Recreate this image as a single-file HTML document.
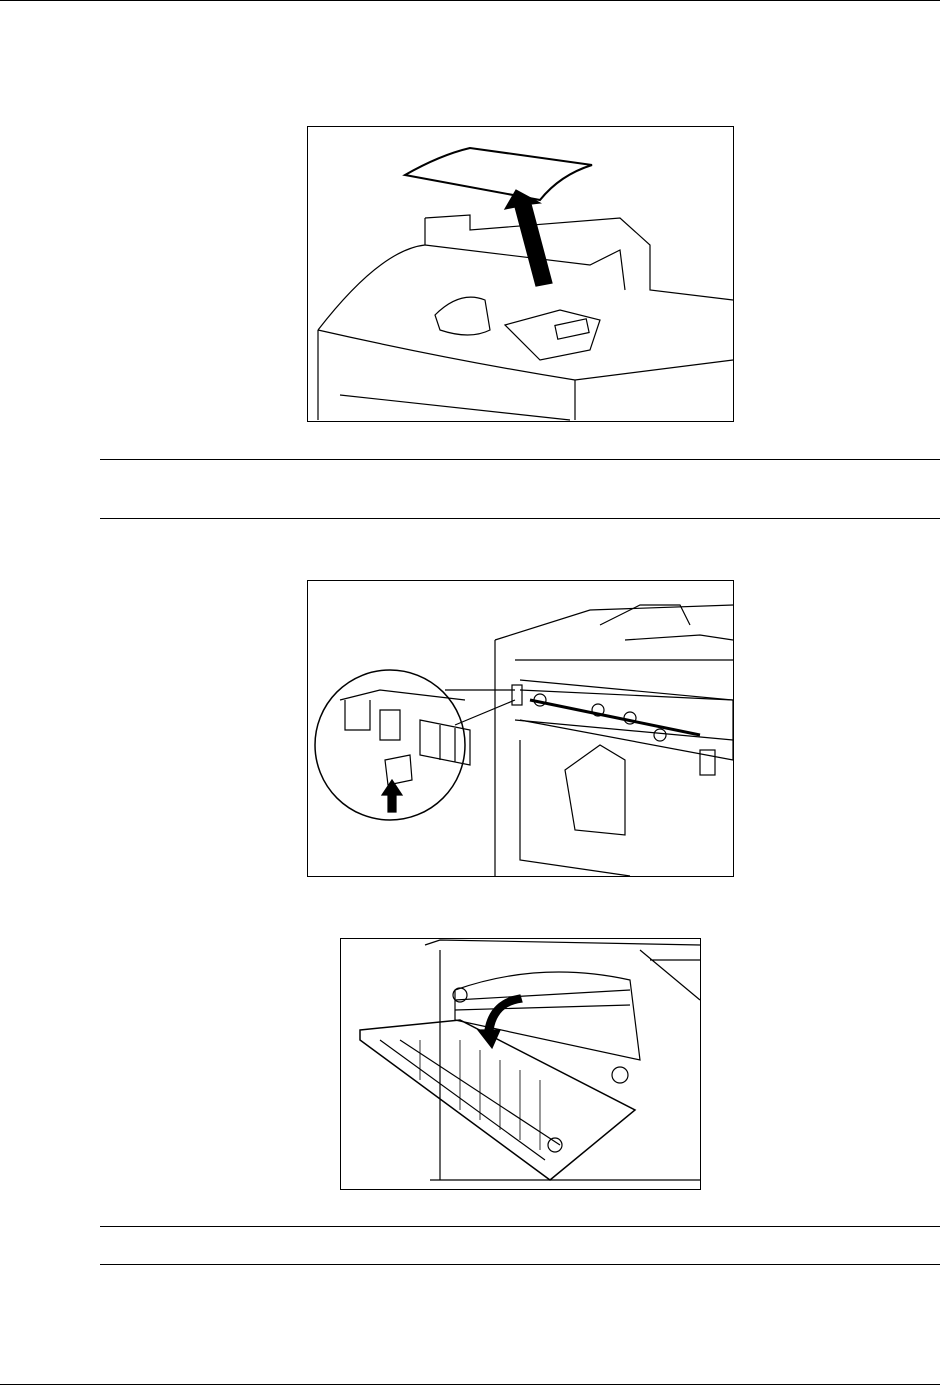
<!DOCTYPE html>
<html><head><meta charset="utf-8"><style>
html,body{margin:0;padding:0;background:#fff;}
body{width:940px;height:1385px;position:relative;overflow:hidden;}
.hl{position:absolute;height:1px;background:#000;}
.box{position:absolute;border:1px solid #000;box-sizing:border-box;background:#fff;}
svg{position:absolute;left:0;top:0;}
</style></head><body>
<div class="hl" style="left:0;top:0;width:940px"></div>
<div class="hl" style="left:100px;top:459px;width:840px"></div>
<div class="hl" style="left:100px;top:518px;width:840px"></div>
<div class="hl" style="left:100px;top:1226px;width:840px"></div>
<div class="hl" style="left:100px;top:1264px;width:840px"></div>
<div class="hl" style="left:0;top:1384px;width:940px"></div>
<div class="box" style="left:307px;top:126px;width:427px;height:296px"></div>
<div class="box" style="left:307px;top:580px;width:427px;height:297px"></div>
<div class="box" style="left:340px;top:938px;width:361px;height:252px"></div>
<svg width="940" height="1385" fill="none" stroke="#000" stroke-width="1.2">
<!-- figure 1 -->
<path d="M405 175 Q440 155 470 148 L592 165 Q560 175 540 200 L405 175Z" stroke-width="2"/>
<path d="M515 207 L536 286 L552 283 L531 204 L540 203 L516 190 L505 209Z" fill="#000"/>
<path d="M425 218 L470 215 L470 230 L620 218 L650 245 L650 290 L733 300"/>
<path d="M318 330 Q380 250 425 245 L425 218"/>
<path d="M425 245 L590 265 L620 250 L625 290"/>
<path d="M318 330 L318 420 M318 330 Q450 360 575 380 L733 360"/>
<path d="M575 380 L575 420 M340 395 L570 420"/>
<path d="M435 315 Q460 290 485 300 L490 330 Q470 340 440 330Z"/>
<path d="M505 325 L560 310 L600 320 L590 350 L540 360 Z"/>
<rect x="556" y="322" width="32" height="14" transform="rotate(-12 572 329)"/>
<!-- figure 2 -->
<path d="M495 640 L590 610 L733 605 M495 640 L495 876 M515 660 L733 660 M520 690 L733 700 M515 720 L733 740"/>
<path d="M520 680 L733 700 L733 760 L520 720" />
<path d="M530 700 L700 735" stroke-width="3"/>
<circle cx="540" cy="700" r="6"/><circle cx="598" cy="710" r="6"/><circle cx="630" cy="718" r="6"/><circle cx="660" cy="735" r="6"/>
<path d="M520 740 L520 860 L630 876 M565 770 L600 745 L625 760 L625 835 L575 830Z"/>
<path d="M600 625 L640 605 L680 605 L690 625 M625 640 L700 635 L733 640"/>
<rect x="700" y="750" width="15" height="25"/>
<circle cx="390" cy="745" r="75" stroke-width="1.5"/>
<path d="M445 690 L515 690 M455 725 L515 700"/>
<path d="M340 700 L380 690 L465 700 M345 700 L345 730 L370 730 L370 700 M380 710 L400 710 L400 740 L380 740Z"/>
<path d="M420 720 L470 730 L470 765 L420 755Z M440 725 L440 760 M455 728 L455 762"/>
<path d="M385 760 L410 755 L412 780 L388 785Z"/>
<path d="M388 812 L388 795 L382 795 L392 780 L402 795 L396 795 L396 812Z" fill="#000"/>
<rect x="512" y="685" width="10" height="20"/>
<!-- figure 3 -->
<path d="M425 945 L440 940 L700 945 M650 960 L700 960 M640 950 L700 1000 M440 950 L440 1180 M430 1180 L700 1180"/>
<path d="M455 990 Q540 960 630 980 L640 1060 L455 1020Z"/>
<path d="M455 1000 L630 990 M455 1010 L630 1005"/>
<path d="M360 1030 L460 1020 L635 1110 L550 1180 L360 1040Z" stroke-width="1.5"/>
<path d="M380 1040 L545 1160 M400 1040 L560 1145"/>
<g stroke-width="0.8"><path d="M420 1040 L420 1080 M440 1040 L440 1095 M460 1040 L460 1110 M480 1050 L480 1120 M500 1060 L500 1130 M520 1070 L520 1140 M540 1080 L540 1150"/></g>
<path d="M520 995 Q490 1000 485 1030 L478 1030 L492 1048 L500 1030 L493 1030 Q497 1005 522 1002Z" fill="#000"/>
<circle cx="620" cy="1075" r="8"/><circle cx="460" cy="995" r="7"/><circle cx="555" cy="1145" r="7"/>
</svg>
</body></html>
